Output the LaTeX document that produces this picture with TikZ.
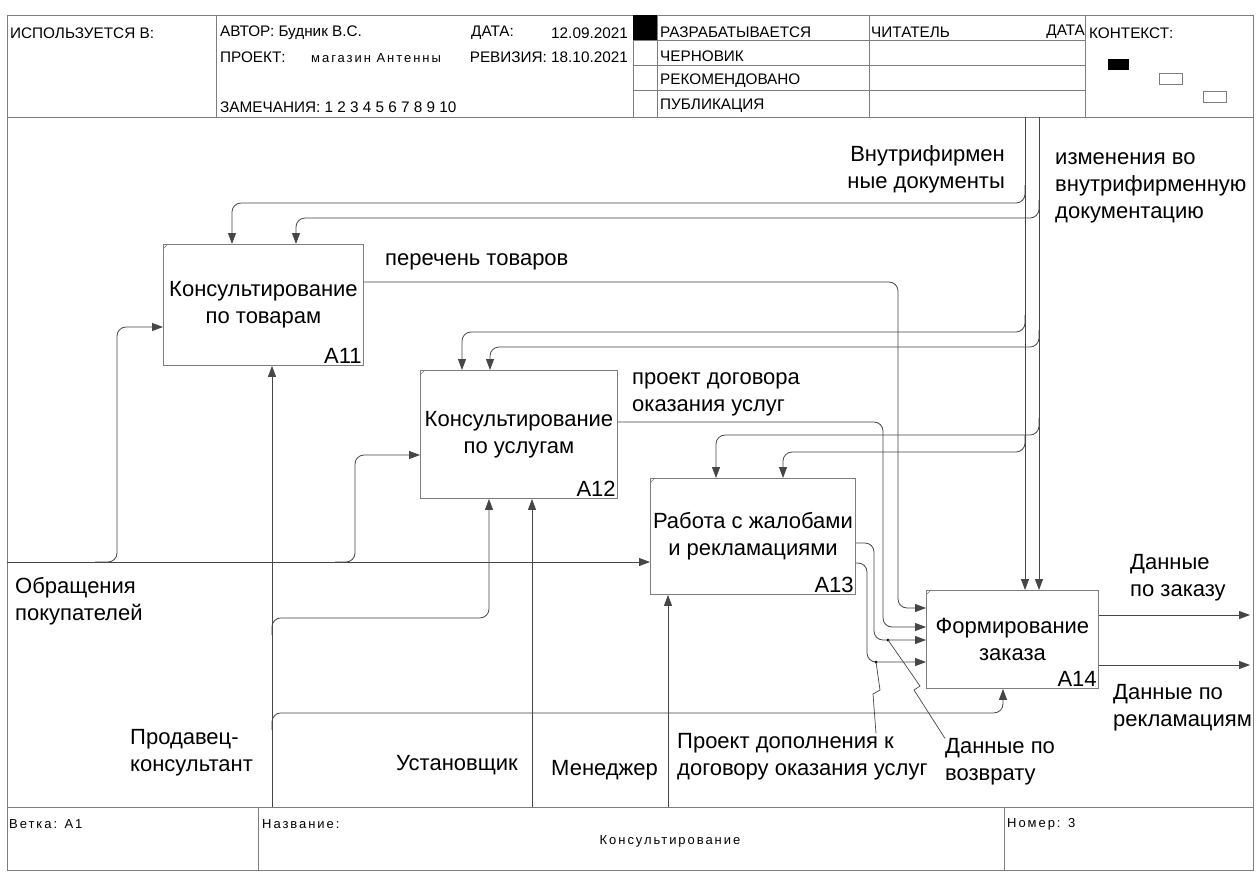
\documentclass[tikz,border=0pt]{standalone}
\usepackage{fontspec}
\setmainfont{Liberation Sans}
\newfontfamily\spacedfam[LetterSpace=15]{Liberation Sans}
\usetikzlibrary{arrows.meta,calc}
\definecolor{lncol}{RGB}{70,70,70}
\definecolor{frcol}{RGB}{125,125,125}
\newcommand\lblf{\fontsize{22}{27}\selectfont}
\newcommand\hdrf{\fontsize{15.3}{17}\selectfont}
\newcommand\ftrf{\spacedfam\fontsize{13}{15}\selectfont}
\begin{document}
\begin{tikzpicture}[x=1pt,y=-1pt,
 frame/.style={draw=frcol,line width=0.8pt},
 proc/.style={draw=frcol,line width=0.9pt,anchor=north west,inner sep=0pt,align=center,font=\lblf},
 conn/.style={draw=lncol,line width=0.8pt,rounded corners=9pt},
 arr/.style={conn,-{Triangle[length=11pt,width=8pt]}},
 callout/.style={draw=lncol,line width=0.7pt},
 lbl/.style={font=\lblf,inner sep=0pt,align=left},
 hdr/.style={font=\hdrf,inner sep=0pt,anchor=west},
 ftr/.style={font=\ftrf,inner sep=0pt,anchor=west},
 num/.style={font=\lblf,inner sep=2pt,anchor=south east},
 dot/.style={circle,fill=black,inner sep=0pt,minimum size=3pt}
]
\useasboundingbox (0,0) rectangle (1257,871);
\fill[white] (0,0) rectangle (1257,871);

% ---------- header ----------
\draw[frame] (7,15) rectangle (1253,117);
\draw[frame] (216,15)--(216,117) (633,15)--(633,117) (657,15)--(657,117)
             (869,15)--(869,117) (1085,15)--(1085,117);
\draw[frame] (633,40)--(1085,40) (633,65)--(1085,65) (633,90)--(1085,90);
\fill (633,15) rectangle (657,40);
\fill (1108,59) rectangle (1129,70);
\draw[frame] (1159,73) rectangle (1182,84);
\draw[frame] (1203,91) rectangle (1226,102);

\node[hdr] (h1) at (10,33) {ИСПОЛЬЗУЕТСЯ В:};
\node[hdr] (h2) at (220,33) {АВТОР: Будник В.С.};
\node[hdr] (h3) at (220,57) {ПРОЕКТ:};
\node[hdr,font=\ftrf] (h4) at (311,58) {магазин Антенны};
\node[hdr] (h5) at (220,107) {ЗАМЕЧАНИЯ: 1 2 3 4 5 6 7 8 9 10};
\node[hdr] (h6) at (471,33) {ДАТА:};
\node[hdr,anchor=east] (h7) at (628,33) {12.09.2021};
\node[hdr,anchor=east] (h8) at (628,57) {РЕВИЗИЯ: 18.10.2021};
\node[hdr] (h9) at (660,32) {РАЗРАБАТЫВАЕТСЯ};
\node[hdr] (h10) at (660,56) {ЧЕРНОВИК};
\node[hdr] (h11) at (660,81) {РЕКОМЕНДОВАНО};
\node[hdr] (h12) at (660,106) {ПУБЛИКАЦИЯ};
\node[hdr] (h13) at (871,32) {ЧИТАТЕЛЬ};
\node[hdr,anchor=east] (h14) at (1085,32) {ДАТА};
\node[hdr] (h15) at (1089,33) {КОНТЕКСТ:};

% ---------- side frame and footer ----------
\draw[frame] (7,117)--(7,807) (1253,117)--(1253,807);
\draw[frame] (7,807) rectangle (1253,870);
\draw[frame] (258,807)--(258,870) (1004,807)--(1004,870);
\node[ftr] (f1) at (9,824) {Ветка: A1};
\node[ftr] (f2) at (262,824) {Название:};
\node[ftr,anchor=center] (f3) at (670,841) {Консультирование};
\node[ftr] (f4) at (1007,824) {Номер: 3};

% ---------- activity boxes ----------
\node[proc,minimum width=200pt,minimum height=121pt] (A11) at (163,244) {Консультирование\\по товарам};
\node[proc,minimum width=197pt,minimum height=128pt] (A12) at (420,370) {Консультирование\\по услугам};
\node[proc,minimum width=205pt,minimum height=116pt] (A13) at (650,478) {Работа с жалобами\\и рекламациями};
\node[proc,minimum width=172pt,minimum height=98pt] (A14) at (926,590) {Формирование\\заказа};
\foreach \b in {A11,A12,A13,A14}{
  \draw[frcol,line width=0.6pt] ($(\b.north west)+(0,5)$) -- ($(\b.north west)+(5,0)$);
}
\node[num] (n11) at (A11.south east) {A11};
\node[num] (n12) at (A12.south east) {A12};
\node[num] (n13) at (A13.south east) {A13};
\node[num] (n14) at (A14.south east) {A14};

% ---------- controls ----------
\coordinate (cA) at (1025,117);
\coordinate (cB) at (1039,117);
\draw[arr] (cA) -- ($(A14.north west)+(99,0)$);
\draw[arr] (cB) -- ($(A14.north west)+(113,0)$);
\coordinate (jA1) at (1025,185);
\coordinate (jB1) at (1039,200);
\coordinate (jA2) at (1025,315);
\coordinate (jB2) at (1039,330);
\coordinate (jB3) at (1039,418);
\coordinate (jA3) at (1025,435);
\draw[arr] (jA1) |- ($(A11.north west)+(69,-41)$) -- ($(A11.north west)+(69,0)$);
\draw[arr] (jB1) |- ($(A11.north west)+(133,-26)$) -- ($(A11.north west)+(133,0)$);
\draw[arr] (jA2) |- ($(A12.north west)+(42,-38)$) -- ($(A12.north west)+(42,0)$);
\draw[arr] (jB2) |- ($(A12.north west)+(70,-23)$) -- ($(A12.north west)+(70,0)$);
\draw[arr] (jB3) |- ($(A13.north west)+(66,-43)$) -- ($(A13.north west)+(66,0)$);
\draw[arr] (jA3) |- ($(A13.north west)+(133,-26)$) -- ($(A13.north west)+(133,0)$);

% ---------- inputs ----------
\coordinate (in0) at (7,562);
\draw[arr] (in0) -- ($(A13.north west)+(0,84)$);
\coordinate (jI1) at (95,562);
\coordinate (jI2) at (335,562);
\draw[arr] (jI1) -| ($(A11.north west)+(-46,83)$) -- ($(A11.north west)+(0,83)$);
\draw[arr] (jI2) -| ($(A12.north west)+(-65,85)$) -- ($(A12.north west)+(0,85)$);

% ---------- mechanisms ----------
\coordinate (m1) at (272,807);
\coordinate (m2) at (532,807);
\coordinate (m3) at (668,807);
\draw[arr] (m1) -- ($(A11.south west)+(109,0)$);
\draw[arr] (m2) -- ($(A12.south west)+(112,0)$);
\draw[arr] (m3) -- ($(A13.south west)+(18,0)$);
\coordinate (jm1) at (272,635);
\coordinate (jm2) at (272,730);
\draw[arr] (jm1) |- ($(A12.south west)+(69,119)$) -- ($(A12.south west)+(69,0)$);
\draw[arr] (jm2) |- ($(A14.south west)+(77,24)$) -- ($(A14.south west)+(77,0)$);

% ---------- outputs ----------
\draw[arr] ($(A11.north east)+(0,38)$) -| (898,450) |- ($(A14.north west)+(0,18)$);
\draw[arr] ($(A12.north east)+(0,52)$) -| (883,520) |- ($(A14.north west)+(0,37)$);
\draw[arr] ($(A13.north east)+(0,65)$) -| (874,600) |- ($(A14.north west)+(0,50)$);
\draw[arr] ($(A13.north east)+(0,85)$) -| (867,620) |- ($(A14.north west)+(0,72)$);
\coordinate (o1) at (1250,615);
\coordinate (o2) at (1250,665);
\draw[arr] ($(A14.north east)+(0,25)$) -- (o1);
\draw[arr] ($(A14.north east)+(0,75)$) -- (o2);

% ---------- labels ----------
\node[lbl,anchor=west] (Lper) at (385,262) {перечень товаров};
\node[lbl,anchor=west] (Lpdu) at (632,394) {проект договора\\оказания услуг};
\node[lbl,anchor=east,align=right] (Lvd) at (1005,169) {Внутрифирмен\\ные документы};
\node[lbl,anchor=west] (Liz) at (1055,188) {изменения во\\внутрифирменную\\документацию};
\node[lbl,anchor=west] (Ldz) at (1130,578) {Данные\\по заказу};
\node[lbl,anchor=west] (Ldr) at (1113,708) {Данные по\\рекламациям};
\node[lbl,anchor=west] (Lobr) at (15,601) {Обращения\\покупателей};
\node[lbl,anchor=west] (Lprod) at (130,753) {Продавец-\\консультант};
\node[lbl,anchor=west] (Lust) at (396,765) {Установщик};
\node[lbl,anchor=west] (Lmen) at (551,770) {Менеджер};
\node[lbl,anchor=west] (Lpd) at (677,757) {Проект дополнения к\\договору оказания услуг};
\node[lbl,anchor=west] (Lvoz) at (945,762) {Данные по\\возврату};

% ---------- callouts ----------
\node[dot] (d1) at (888,640) {};
\node[dot] (d2) at (876,662) {};
\draw[callout] (d1.center) -- (920,686) -- (914,690) -- (Lvoz.north west);
\draw[callout] (d2.center) -- (880,690) -- (873,694) -- (Lpd.north -| d2);
\end{tikzpicture}
\end{document}
